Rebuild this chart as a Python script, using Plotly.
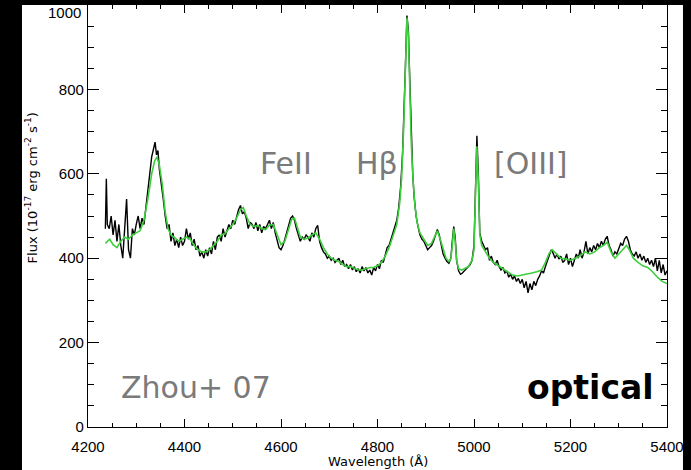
import plotly.graph_objects as go

# Observed spectrum (wavelength in Angstrom, flux in 1e-17 erg cm^-2 s^-1 A^-1)
obs_wave = [
    4236, 4238, 4240, 4244, 4248, 4252, 4256, 4260, 4264, 4268, 4272, 4276, 4280, 4284, 4288,
    4292, 4296, 4300, 4304, 4308, 4312, 4316, 4320, 4324, 4328, 4332, 4336, 4339, 4342, 4345,
    4348, 4352, 4356, 4360, 4364, 4368, 4372, 4376, 4380, 4384, 4388, 4392, 4396, 4400, 4404,
    4408, 4412, 4416, 4420, 4424, 4428, 4432, 4436, 4440, 4444, 4448, 4452, 4456, 4460, 4464,
    4468, 4472, 4476, 4480, 4484, 4488, 4492, 4496, 4500, 4504, 4508, 4512, 4516, 4520, 4524,
    4528, 4532, 4536, 4540, 4544, 4548, 4552, 4556, 4560, 4564, 4568, 4572, 4576, 4580, 4584,
    4588, 4592, 4596, 4600, 4604, 4608, 4612, 4616, 4620, 4624, 4628, 4632, 4636, 4640, 4644,
    4648, 4652, 4656, 4660, 4664, 4668, 4672, 4676, 4680, 4684, 4688, 4692, 4696, 4700, 4704,
    4708, 4712, 4716, 4720, 4724, 4728, 4732, 4736, 4740, 4744, 4748, 4752, 4756, 4760, 4764,
    4768, 4772, 4776, 4780, 4784, 4788, 4792, 4796, 4800, 4804, 4808, 4812, 4816, 4820, 4824,
    4828, 4832, 4836, 4840, 4844, 4848, 4852, 4855, 4858, 4861, 4864, 4867, 4870, 4873, 4876,
    4880, 4884, 4888, 4892, 4896, 4900, 4904, 4908, 4912, 4916, 4920, 4924, 4928, 4932, 4936,
    4940, 4944, 4948, 4952, 4955, 4958, 4961, 4964, 4968, 4972, 4976, 4980, 4984, 4988, 4992,
    4996, 5000, 5003, 5006, 5009, 5012, 5016, 5020, 5024, 5028, 5032, 5036, 5040, 5044, 5048,
    5052, 5056, 5060, 5064, 5068, 5072, 5076, 5080, 5084, 5088, 5092, 5096, 5100, 5104, 5108,
    5112, 5116, 5120, 5124, 5128, 5132, 5136, 5140, 5144, 5148, 5152, 5156, 5160, 5164, 5168,
    5172, 5176, 5180, 5184, 5188, 5192, 5196, 5200, 5204, 5208, 5212, 5216, 5220, 5224, 5228,
    5232, 5236, 5240, 5244, 5248, 5252, 5256, 5260, 5264, 5268, 5272, 5276, 5280, 5284, 5288,
    5292, 5296, 5300, 5304, 5308, 5312, 5316, 5320, 5324, 5328, 5332, 5336, 5340, 5344, 5348,
    5352, 5356, 5360, 5364, 5368, 5372, 5376, 5380, 5384, 5388, 5392, 5396, 5400,
]
obs_flux = [
    470, 588, 480, 470, 500, 455, 490, 440, 480, 430, 400, 470, 540, 420, 400,
    470, 455, 480, 500, 470, 495, 480, 520, 560, 600, 640, 660, 675, 645, 655,
    610, 580, 540, 500, 470, 480, 440, 460, 430, 445, 425, 450, 430, 440, 470,
    445, 460, 430, 445, 420, 430, 405, 415, 400, 420, 405, 425, 410, 440, 420,
    450, 455, 440, 470, 450, 465, 480, 470, 490, 480, 500, 515, 525, 505, 510,
    495, 470, 485, 480, 470, 485, 465, 480, 460, 475, 470, 480, 490, 470, 485,
    460, 440, 425, 420, 430, 445, 460, 480, 495, 500, 490, 470, 455, 440, 450,
    445, 455, 450, 440, 460, 450, 470, 478, 440, 425, 415, 410, 400, 405, 395,
    400, 390, 395, 400, 385, 395, 380, 385, 375, 385, 372, 380, 368, 375, 365,
    380, 370, 378, 365, 372, 360, 378, 370, 385, 375, 395, 390, 410, 425, 430,
    445, 460, 470, 490, 520, 570, 650, 740, 860, 975, 940, 820, 690, 600, 545,
    500, 475, 455, 445, 440, 430, 420, 425, 430, 440, 455, 468, 455, 430, 410,
    400, 392, 388, 400, 440, 475, 450, 395, 370, 362, 365, 370, 375, 380, 385,
    395, 430, 560, 690, 600, 460, 440, 430, 420, 425, 395, 405, 390, 385, 395,
    380, 372, 378, 365, 370, 355, 362, 350, 358, 345, 352, 340, 350, 330, 345,
    318, 340, 325, 345, 335, 350, 358, 370, 365, 380, 395, 410, 420, 412, 400,
    410, 398, 405, 390, 395, 410, 385, 400, 380, 395, 410, 400, 420, 400, 415,
    440, 410, 425, 415, 430, 420, 435, 425, 440, 430, 445, 452, 430, 420, 405,
    415, 410, 425, 435, 430, 445, 452, 440, 420, 410, 405, 415, 400, 410, 395,
    405, 390, 400, 385, 395, 380, 400, 370, 395, 365, 385, 360, 370,
]

# Model fit (FeII template + broad/narrow lines + continuum)
fit_wave = [
    4236, 4245, 4252, 4260, 4268, 4276, 4284, 4292, 4300, 4308, 4316, 4324, 4332, 4338, 4343,
    4348, 4354, 4360, 4366, 4372, 4380, 4388, 4396, 4404, 4412, 4420, 4428, 4436, 4444, 4452,
    4460, 4468, 4476, 4484, 4492, 4500, 4508, 4516, 4522, 4528, 4536, 4544, 4552, 4560, 4568,
    4576, 4584, 4592, 4600, 4608, 4616, 4622, 4628, 4634, 4640, 4648, 4656, 4664, 4672, 4680,
    4688, 4696, 4704, 4712, 4720, 4728, 4736, 4744, 4752, 4760, 4768, 4776, 4784, 4792, 4800,
    4808, 4816, 4824, 4832, 4840, 4846, 4850, 4854, 4858, 4861, 4864, 4867, 4870, 4874, 4878,
    4882, 4888, 4896, 4904, 4912, 4918, 4924, 4930, 4936, 4942, 4948, 4952, 4955, 4958, 4961,
    4964, 4968, 4974, 4980, 4988, 4996, 5000, 5003, 5006, 5009, 5012, 5016, 5024, 5032, 5040,
    5048, 5056, 5064, 5072, 5080, 5090, 5100, 5110, 5120, 5130, 5140, 5148, 5156, 5162, 5170,
    5180, 5190, 5200, 5210, 5220, 5230, 5240, 5250, 5260, 5268, 5276, 5284, 5292, 5300, 5308,
    5316, 5322, 5330, 5340, 5350, 5360, 5370, 5380, 5390, 5400,
]
fit_flux = [
    435, 445, 432, 425, 440, 450, 445, 455, 460, 465, 490, 540, 600, 630, 640,
    620, 575, 510, 470, 455, 448, 440, 445, 450, 445, 430, 420, 415, 415, 420,
    430, 440, 455, 458, 470, 480, 495, 515, 520, 500, 480, 475, 478, 470, 468,
    478, 480, 455, 432, 440, 470, 492, 495, 475, 450, 445, 448, 455, 460, 445,
    425, 410, 400, 395, 392, 385, 380, 380, 375, 372, 372, 375, 378, 378, 382,
    390, 405, 425, 450, 480, 530, 590, 700, 860, 970, 930, 800, 670, 580, 520,
    485, 460, 445, 430, 435, 450, 465, 445, 420, 400, 392, 398, 430, 470, 440,
    395, 375, 372, 375, 380, 395, 420, 550, 665, 580, 455, 430, 415, 400, 390,
    385, 378, 372, 365, 360, 358, 360, 362, 365, 368, 372, 390, 412, 420, 410,
    400, 398, 395, 400, 405, 415, 410, 415, 425, 430, 438, 415, 400, 410, 420,
    430, 420, 400, 390, 382, 378, 368, 355, 345, 340,
]

x_ticks = [4200, 4400, 4600, 4800, 5000, 5200, 5400]
y_ticks = [0, 200, 400, 600, 800, 1000]

fig = go.Figure()
fig.add_trace(go.Scatter(x=obs_wave, y=obs_flux, mode="lines",
                         line=dict(color="black", width=1.4), showlegend=False))
fig.add_trace(go.Scatter(x=fit_wave, y=fit_flux, mode="lines",
                         line=dict(color="#3ccf3c", width=1.6), showlegend=False))

tick_font = dict(family="Liberation Sans, Arial, sans-serif", size=15, color="black")
label_font = dict(family="DejaVu Sans, sans-serif", size=30, color="#7a7a7a")
title_font = dict(family="DejaVu Sans, sans-serif", size=13, color="black")

fig.update_xaxes(
    range=[4200, 5400], tickvals=x_ticks, ticktext=[str(v) for v in x_ticks],
    ticks="inside", ticklen=8, tickwidth=1.2, tickcolor="black", ticklabelstandoff=6,
    minor=dict(ticks="inside", ticklen=4, dtick=50, tickwidth=1.2, tickcolor="black"),
    showline=True, linecolor="black", linewidth=1.3, mirror="ticks",
    showgrid=False, zeroline=False, tickfont=tick_font,
)
# the top label (1000) sits just below its tick, so it is drawn separately
y_text = [str(v) if v != 1000 else "" for v in y_ticks]
fig.update_yaxes(
    range=[0, 1000], tickvals=y_ticks, ticktext=y_text,
    ticks="inside", ticklen=11, tickwidth=1.2, tickcolor="black",
    minor=dict(ticks="inside", ticklen=6, dtick=50, tickwidth=1.2, tickcolor="black"),
    showline=True, linecolor="black", linewidth=1.3, mirror="ticks",
    showgrid=False, zeroline=False, tickfont=tick_font,
)

annotations = [
    dict(x=-0.0086, y=1000, xref="paper", yref="y", text=str(y_ticks[-1]),
         xanchor="right", yanchor="middle", yshift=-7, showarrow=False, font=tick_font),
    dict(x=0.5, y=-0.081, xref="paper", yref="paper", text="Wavelength (Å)",
         xanchor="center", yanchor="middle", showarrow=False, font=title_font),
    dict(x=-0.098, y=0.566, xref="paper", yref="paper", textangle=-90,
         xanchor="center", yanchor="middle",
         text="Flux (10<sup>-17</sup> erg cm<sup>-2</sup> s<sup>-1</sup>)",
         showarrow=False, font=title_font),
    dict(x=4610, y=625, text="FeII", showarrow=False, font=label_font),
    dict(x=4799, y=625, text="Hβ", showarrow=False, font=label_font),
    dict(x=5118, y=625, text="[OIII]", showarrow=False, font=label_font),
    dict(x=4424, y=93, text="Zhou+ 07", showarrow=False, font=label_font),
    dict(x=5242, y=93, text="optical", showarrow=False,
         font=dict(family="DejaVu Sans, sans-serif", size=33, color="black", weight="bold")),
]

# dark frame around the white panel
frame = dict(type="rect", xref="paper", yref="paper", layer="above",
             fillcolor="black", line=dict(width=0))
shapes = [
    dict(frame, x0=-0.3, x1=-0.114, y0=-0.3, y1=1.2),
    dict(frame, x0=-0.3, x1=1.2, y0=1.0, y1=1.2),
    dict(frame, x0=1.0276, x1=1.2, y0=-0.3, y1=1.2),
]

fig.update_layout(
    width=691, height=470,
    margin=dict(l=88, r=24, t=5, b=43),
    paper_bgcolor="white", plot_bgcolor="white",
    annotations=annotations, shapes=shapes,
)

fig.write_html("out.html")
